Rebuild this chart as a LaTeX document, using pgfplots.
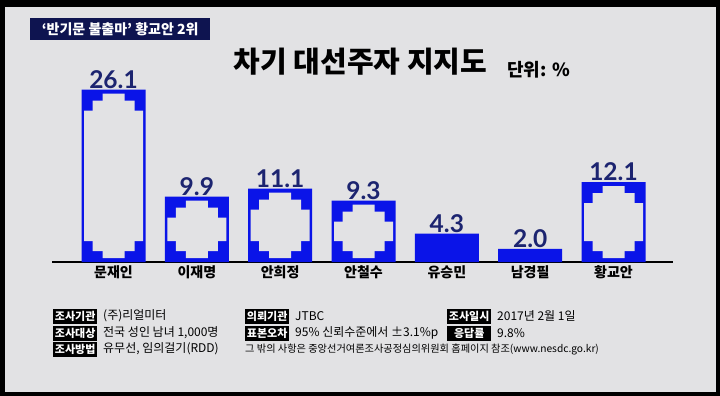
\documentclass[border=0pt]{standalone}
\usepackage{pgfplots}
\usepackage{pgfplotstable}
\pgfplotsset{compat=1.18}
\usepackage{fontspec}
\setmainfont{Noto Sans CJK KR}
\newfontfamily\numfont{Lato}
\definecolor{bg}{HTML}{E2E2E4}
\definecolor{barblue}{HTML}{0A14E8}
\definecolor{navy}{HTML}{1C2470}
\definecolor{boxnavy}{HTML}{0E1450}
\pgfplotstableread{
x v
0 26.1
1 9.9
2 11.1
3 9.3
6 12.1
}\tall
\pgfplotstableread{
x v
4 4.3
5 2.0
}\small
\tikzset{
  lab/.style={fill=black,text=white,anchor=west,inner xsep=1.5pt,inner ysep=1pt,minimum width=44pt,minimum height=15pt,font=\bfseries\fontsize{11}{12}\selectfont},
  val/.style={anchor=west,inner sep=0pt,text=black,font=\fontsize{12}{13}\selectfont}
}
\begin{document}
\begin{tikzpicture}
\fill[black] (0pt,0pt) rectangle (720pt,-396pt);
\fill[bg] (5pt,-7pt) rectangle (716pt,-392pt);
\node[fill=boxnavy,text=white,anchor=west,minimum height=22pt,minimum width=180pt,inner sep=0pt,font=\bfseries\fontsize{14}{16}\selectfont] at (30pt,-29pt) {‘반기문 불출마’ 황교안 2위};
\node[font=\bfseries\fontsize{29}{32}\selectfont,inner sep=0pt] at (360.5pt,-62pt) {차기 대선주자 지지도};
\node[font=\bfseries\fontsize{18}{20}\selectfont,inner sep=0pt,anchor=west] at (507pt,-70pt) {단위: \%};
% footer
\node[lab] at (53pt,-316pt) {조사기관};
\node[val] at (103pt,-316pt) {(주)리얼미터};
\node[lab] at (53pt,-333pt) {조사대상};
\node[val] at (103pt,-333pt) {전국 성인 남녀 1,000명};
\node[lab] at (53pt,-349pt) {조사방법};
\node[val] at (103pt,-349pt) {유무선, 임의걸기(RDD)};
\node[lab] at (245pt,-316pt) {의뢰기관};
\node[val] at (295pt,-316pt) {JTBC};
\node[lab] at (245pt,-333pt) {표본오차};
\node[val] at (295pt,-333pt) {95\% 신뢰수준에서 ±3.1\%p};
\node[val,font=\fontsize{10.2}{11}\selectfont] at (245pt,-349pt) {그 밖의 사항은 중앙선거여론조사공정심의위원회 홈페이지 참조(www.nesdc.go.kr)};
\node[lab] at (447pt,-316pt) {조사일시};
\node[val] at (497pt,-316pt) {2017년 2월 1일};
\node[lab] at (447pt,-333pt) {응답률};
\node[val] at (497pt,-333pt) {9.8\%};
\begin{axis}[
  at={(52pt,-262pt)}, anchor=south west, scale only axis,
  width=621pt, height=198pt,
  xmin=-0.738, xmax=6.714, ymin=0, ymax=30,
  axis y line=none, axis x line*=bottom,
  x axis line style={black,line width=1.5pt},
  xtick={0,...,6},
  xticklabels={문재인,이재명,안희정,안철수,유승민,남경필,황교안},
  major tick length=0pt,
  ticklabel style={font=\bfseries\fontsize{14}{16}\selectfont,inner sep=3.5pt},
  ybar, clip=false,
  /pgf/number format/assume math mode=true,
  every node near coord/.append style={font=\numfont\bfseries\fontsize{24.5}{26}\selectfont,text=navy,inner sep=1pt},
]
% full blue bars with value labels
\addplot[draw=none,fill=barblue,bar shift=0pt,bar width=64pt,
  nodes near coords={\pgfmathprintnumber[fixed,fixed zerofill,precision=1]{\pgfplotspointmeta}}]
  table[x=x,y=v] {\tall};
\addplot[draw=none,fill=barblue,bar shift=0pt,bar width=64pt,
  nodes near coords={\pgfmathprintnumber[fixed,fixed zerofill,precision=1]{\pgfplotspointmeta}}]
  table[x=x,y=v] {\small};
% light interiors of the framed bars (stepped corner blocks)
\addplot[draw=none,fill=bg,bar shift=0pt,bar width=59pt,yshift=21pt]
  table[x=x,y expr=\thisrow{v}-42/6.6] {\tall};
\addplot[draw=none,fill=bg,bar shift=0pt,bar width=22pt,yshift=4pt]
  table[x=x,y expr=\thisrow{v}-8/6.6] {\tall};
\addplot[draw=none,fill=bg,bar shift=0pt,bar width=42pt,yshift=11pt]
  table[x=x,y expr=\thisrow{v}-22/6.6] {\tall};
\end{axis}
\end{tikzpicture}
\end{document}
